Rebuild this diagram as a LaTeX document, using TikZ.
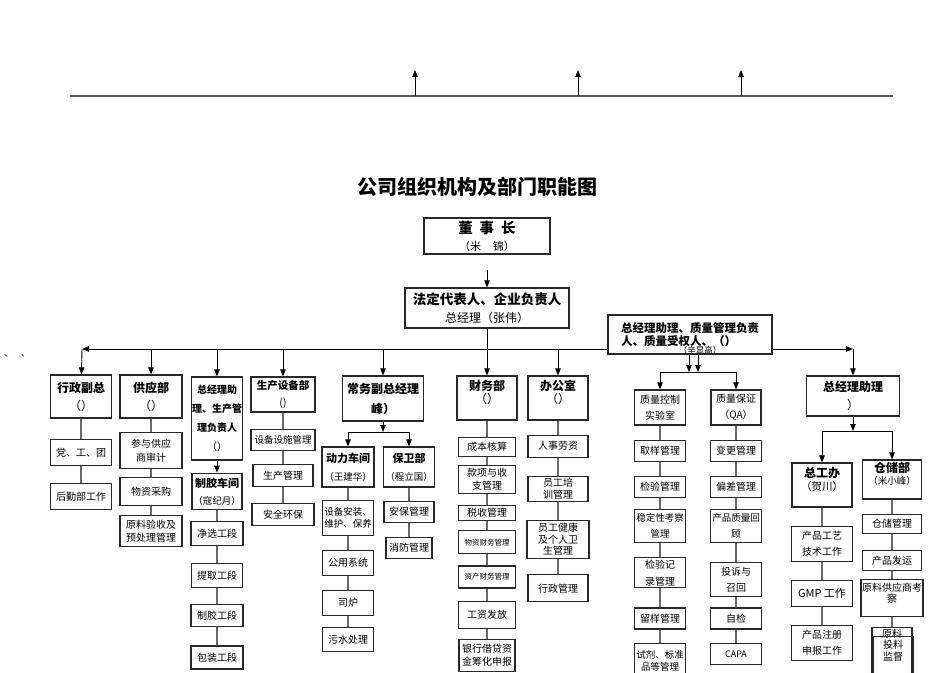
\documentclass[tikz,border=0pt]{standalone}
\usepackage{fontspec}
\setmainfont{Noto Sans CJK SC}
\usetikzlibrary{arrows.meta, positioning}
\definecolor{InkGray}{RGB}{40, 40, 40}
\definecolor{LinkGray}{RGB}{105, 105, 105}

\begin{document}
\begin{tikzpicture}[
        x=1pt, y=-1pt,
        unit/.style={draw=InkGray, line width=1.2pt, fill=white, inner sep=0pt, align=center, font=\fontsize{10}{15}\selectfont},
        head/.style={unit, font=\fontsize{12}{18}\selectfont\bfseries},
        wh/.style 2 args={minimum width=#1pt, minimum height=#2pt},
        small/.style={font=\fontsize{9.5}{12}\selectfont},
        tiny/.style={font=\fontsize{7.5}{9}\selectfont},
        spread/.style={font=\fontsize{10}{16}\selectfont},
        link/.style={LinkGray, line width=1.2pt},
        arr/.style={-{Triangle[length=7pt, width=5.5pt]}, black, line width=0.9pt},
        lbl/.style={font=\fontsize{8.5}{9}\selectfont}
    ]
        \fill[white] (0,0) rectangle (950,672);
        \useasboundingbox (0,0) rectangle (950,672);

        % top rule
        \coordinate (t0) at (70,96);
        \coordinate (t1) at (893,96);
        \draw[black!65, line width=1.5pt] (t0) -- (t1);
        \foreach \x [count=\i] in {415,578,741} {
            \coordinate (up\i) at (\x,70);
            \draw[arr] (up\i |- t0) -- (up\i);
        }

        \node[font=\fontsize{20}{24}\selectfont\bfseries] (title) at (477,187) {公司组织机构及部门职能图};

        % top of the tree
        \node[unit, wh={126}{36}, font=\fontsize{11}{17}\selectfont] (dsz) at (487,236)
            {{\bfseries\fontsize{14.5}{17}\selectfont 董\hspace{7pt}事\hspace{7pt}长}\\（米\hspace{12pt}锦）};
        \node[unit, wh={164}{40}, font=\fontsize{12}{18}\selectfont] (fd) at (487,308)
            {{\bfseries\fontsize{13.5}{18}\selectfont 法定代表人、企业负责人}\\总经理（张伟）};
        \coordinate (a0) at (487,270);
        \draw[arr] (a0) -- (fd);

        \node[unit, wh={164}{39}, align=left, font=\fontsize{11.5}{12.5}\selectfont\bfseries] (qa) at (690,334.5)
            {总经理助理、质量管理负责\\人、质量受权人、（）};
        \node[lbl] (qan) at (700,350) {（辛显高）};
        \node[lbl] (dots) at (17,356) {、\quad 、};

        % department heads
        \node[head, wh={61}{43}] (xz) at (81,396.5) {行政副总\\{\mdseries （）}};
        \node[head, wh={62}{43}] (gy) at (151,396.5) {供应部\\{\mdseries （）}};
        \node[head, wh={51}{83}, font=\fontsize{10}{19}\selectfont\bfseries] (zl) at (217,418.5)
            {总经理助\\理、生产管\\理负责人\\{\mdseries （）}};
        \node[head, wh={64}{35}, font=\fontsize{10.5}{17}\selectfont\bfseries] (sb) at (283,394.5) {生产设备部\\{\mdseries ()}};
        \node[head, wh={81}{45}, font=\fontsize{12}{20}\selectfont\bfseries] (cw) at (383,398.5) {常务副总经理\\峰）};
        \node[head, wh={60}{44}, font=\fontsize{12}{13}\selectfont\bfseries] (cb) at (487,398) {财务部\\{\mdseries （）}\\~};
        \node[head, wh={60}{44}, font=\fontsize{12}{13}\selectfont\bfseries] (bg) at (558,398) {办公室\\{\mdseries （）}\\~};
        \node[unit, wh={51}{35}, spread] (qc) at (660,407.5) {质量控制\\实验室};
        \node[unit, wh={50}{35}, spread] (qb) at (736,407.5) {质量保证\\（QA）};
        \node[head, wh={93}{40}] (gz) at (853,396) {总经理助理\\{\mdseries ）}};

        % bus
        \coordinate (busL) at (82,349);
        \draw[arr] (qa.west |- busL) -- (busL);
        \draw[arr] (busL) -- (xz);
        \foreach \n in {gy,zl,sb,cw,bg}
            \draw[arr] (\n |- busL) -- (\n);
        \draw[arr] (fd) -- (cb);
        \draw[arr] (qa.east |- busL) -- (gz |- busL);
        \draw[arr] (gz |- busL) -- (gz);

        % 行政副总
        \node[unit, wh={61}{26}, below=20pt of xz] (xz1) {党、工、团};
        \node[unit, wh={61}{26}, below=17pt of xz1] (xz2) {后勤部工作};
        \draw[link] (xz) -- (xz1) -- (xz2);

        % 供应部
        \node[unit, wh={62}{36}, below=13pt of gy, font=\fontsize{10}{14}\selectfont] (gy1) {参与供应\\商审计};
        \node[unit, wh={62}{28}, below=8pt of gy1] (gy2) {物资采购};
        \node[unit, wh={62}{31}, below=9pt of gy2, font=\fontsize{10}{13}\selectfont] (gy3) {原料验收及\\预处理管理};
        \draw[link] (gy) -- (gy1) -- (gy2) -- (gy3);

        % 生产
        \node[unit, wh={50}{36}, below=12pt of zl, font=\fontsize{9.5}{17}\selectfont] (zl1) {{\bfseries\fontsize{11}{17}\selectfont 制胶车间}\\（寇纪月）};
        \node[unit, wh={52}{24}, below=11pt of zl1] (zl2) {净选工段};
        \node[unit, wh={51}{24}, below=17pt of zl2] (zl3) {提取工段};
        \node[unit, wh={52}{22}, below=16pt of zl3] (zl4) {制胶工段};
        \node[unit, wh={52}{23}, below=18pt of zl4] (zl5) {包装工段};
        \draw[arr] (zl) -- (zl1);
        \draw[link] (zl1) -- (zl2) -- (zl3) -- (zl4) -- (zl5);

        % 生产设备部
        \node[unit, wh={64}{21}, below=16pt of sb, small] (sb1) {设备设施管理};
        \node[unit, wh={60}{22}, below=13pt of sb1] (sb2) {生产管理};
        \node[unit, wh={62}{22}, below=16pt of sb2] (sb3) {安全环保};
        \draw[link] (sb) -- (sb1) -- (sb2) -- (sb3);

        % 常务副总经理
        \coordinate (cwj) at (383,432);
        \node[unit, wh={52}{40}, font=\fontsize{9.5}{18}\selectfont] (dl) at (348,467) {{\bfseries\fontsize{11}{18}\selectfont 动力车间}\\（王建华）};
        \node[unit, wh={51}{40}, font=\fontsize{9.5}{18}\selectfont] (bw) at (409,467) {{\bfseries\fontsize{11}{18}\selectfont 保卫部}\\（程立国）};
        \draw[arr] (cw) -- (cwj);
        \draw[arr] (cwj) -| (dl);
        \draw[arr] (cwj) -| (bw);
        \node[unit, wh={51}{35}, below=12pt of dl, small] (dl1) {设备安装、\\维护、保养};
        \node[unit, wh={51}{25}, below=14pt of dl1] (dl2) {公用系统};
        \node[unit, wh={51}{25}, below=14pt of dl2] (dl3) {司炉};
        \node[unit, wh={51}{24}, below=11pt of dl3] (dl4) {污水处理};
        \draw[link] (dl) -- (dl1) -- (dl2) -- (dl3) -- (dl4);
        \node[unit, wh={50}{21}, below=13pt of bw] (bw1) {安保管理};
        \node[unit, wh={46}{21}, below=14pt of bw1] (bw2) {消防管理};
        \draw[link] (bw) -- (bw1) -- (bw2);

        % 财务部
        \node[unit, wh={57}{19}, below=16pt of cb] (cb1) {成本核算};
        \node[unit, wh={57}{28}, below=8pt of cb1, font=\fontsize{10}{12.5}\selectfont] (cb2) {款项与收\\支管理};
        \node[unit, wh={57}{15}, below=11pt of cb2] (cb3) {税收管理};
        \node[unit, wh={57}{23}, below=9pt of cb3, tiny] (cb4) {物资财务管理};
        \node[unit, wh={57}{22}, below=11pt of cb4, tiny] (cb5) {资产财务管理};
        \node[unit, wh={57}{27}, below=12pt of cb5] (cb6) {工资发放};
        \node[unit, wh={56}{32}, below=10pt of cb6, font=\fontsize{10}{13.5}\selectfont] (cb7) {银行借贷资\\金筹化申报};
        \draw[link] (cb) -- (cb1) -- (cb2) -- (cb3) -- (cb4) -- (cb5) -- (cb6) -- (cb7);

        % 办公室
        \node[unit, wh={60}{22}, below=14pt of bg] (bg1) {人事劳资};
        \node[unit, wh={60}{25}, below=18pt of bg1, font=\fontsize{10}{12}\selectfont] (bg2) {员工培\\训管理};
        \node[unit, wh={62}{38}, below=18pt of bg2, font=\fontsize{10}{11.5}\selectfont] (bg3) {员工健康\\及个人卫\\生管理};
        \node[unit, wh={60}{27}, below=15pt of bg3] (bg4) {行政管理};
        \draw[link] (bg) -- (bg1) -- (bg2) -- (bg3) -- (bg4);

        % 质量
        \coordinate (qa1) at (689,372);
        \coordinate (qa2) at (698,372);
        \draw[arr] (qa.south -| qa1) -- (qa1);
        \draw[arr] (qa.south -| qa2) -- (qa2);
        \draw[arr] (qa2) -| (qc);
        \draw[arr] (qa1) -| (qb);
        \node[unit, wh={51}{21}, below=14pt of qc] (qc1) {取样管理};
        \node[unit, wh={51}{21}, below=14pt of qc1] (qc2) {检验管理};
        \node[unit, wh={51}{33}, below=11pt of qc2, font=\fontsize{9.5}{16}\selectfont] (qc3) {稳定性考察\\管理};
        \node[unit, wh={51}{30}, below=14pt of qc3, font=\fontsize{10}{17}\selectfont] (qc4) {检验记\\录管理};
        \node[unit, wh={51}{21}, below=19pt of qc4] (qc5) {留样管理};
        \node[unit, wh={51}{35}, below=13pt of qc5, small] (qc6) {试剂、标准\\品等管理};
        \draw[link] (qc) -- (qc1) -- (qc2) -- (qc3) -- (qc4) -- (qc5) -- (qc6);
        \node[unit, wh={51}{21}, below=14pt of qb] (qb1) {变更管理};
        \node[unit, wh={51}{21}, below=14pt of qb1] (qb2) {偏差管理};
        \node[unit, wh={51}{33}, below=11pt of qb2, font=\fontsize{9.5}{16}\selectfont] (qb3) {产品质量回\\顾};
        \node[unit, wh={51}{34}, below=19pt of qb3, spread] (qb4) {投诉与\\召回};
        \node[unit, wh={51}{21}, below=10pt of qb4] (qb5) {自检};
        \node[unit, wh={51}{21}, below=13pt of qb5, font=\fontsize{9}{11}\selectfont] (qb6) {CAPA};
        \draw[link] (qb) -- (qb1) -- (qb2) -- (qb3) -- (qb4) -- (qb5) -- (qb6);

        % 总经理助理
        \coordinate (gzj) at (853,431);
        \node[unit, wh={60}{44}, font=\fontsize{10.5}{13}\selectfont] (zg) at (822,485) {{\bfseries\fontsize{12}{13}\selectfont 总工办}\\（贺川）\\~};
        \node[unit, wh={59}{39}, font=\fontsize{9.5}{12}\selectfont] (cc) at (892,479.5) {{\bfseries\fontsize{12}{13}\selectfont 仓储部}\\（米小峰）\\~};
        \draw[arr] (gz) -- (gzj);
        \draw[arr] (gzj) -| (zg);
        \draw[arr] (gzj) -| (cc);
        \node[unit, wh={61}{35}, below=18pt of zg, spread] (zg1) {产品工艺\\技术工作};
        \node[unit, wh={61}{26}, below=18pt of zg1, font=\fontsize{11}{13}\selectfont] (zg2) {GMP 工作};
        \node[unit, wh={61}{35}, below=18pt of zg2, spread] (zg3) {产品注册\\申报工作};
        \draw[link] (zg) -- (zg1) -- (zg2) -- (zg3);
        \node[unit, wh={59}{19}, below=14pt of cc] (cc1) {仓储管理};
        \node[unit, wh={59}{20}, below=16pt of cc1] (cc2) {产品发运};
        \node[unit, wh={62}{37}, below=8pt of cc2, font=\fontsize{10}{11}\selectfont] (cc3) {原料供应商考\\察\\~};
        \node[unit, wh={40}{47}, below=10pt of cc3, font=\fontsize{10}{12}\selectfont] (cc4) {原料\\~\\~\\~};
        \node[unit, fill=none, wh={40}{39}, anchor=south, font=\fontsize{10}{12}\selectfont] (cc5) at ([xshift=1pt, yshift=-1pt]cc4.south) {投料\\监督\\~};
        \draw[link] (cc) -- (cc1) -- (cc2) -- (cc3) -- (cc4);
\end{tikzpicture}
\end{document}
